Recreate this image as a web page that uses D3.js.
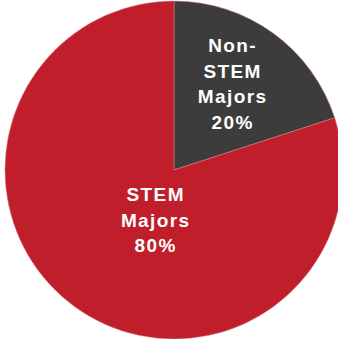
<!DOCTYPE html>
<html>
<head>
<meta charset="utf-8">
<script src="https://d3js.org/d3.v7.min.js"></script>
<style>
  html, body { margin: 0; padding: 0; background: #fff; }
  svg { display: block; }
</style>
</head>
<body>
<div id="chart"></div>
<script>
// data
var categories = ["Non-STEM Majors", "STEM Majors"];
var shares = [20, 80];
var labelLines = [["Non-", "STEM", "Majors", "20%"], ["STEM", "Majors", "80%"]];
var colors = ["#3c3c3d", "#bf1e2a"];

var width = 338, height = 339;
var cx = 174, cy = 170, radius = 169;

var svg = d3.select("#chart")
    .append("svg")
    .attr("width", width)
    .attr("height", height);

var g = svg.append("g")
    .attr("transform", "translate(" + cx + "," + cy + ")");

var pie = d3.pie().sort(null).value(function(d) { return d; });
var arcs = pie(shares);

var arc = d3.arc().innerRadius(0).outerRadius(radius);

g.selectAll("path")
    .data(arcs)
    .enter()
    .append("path")
    .attr("d", arc)
    .attr("fill", function(d, i) { return colors[i]; })
    .attr("stroke", "#d9868a")
    .attr("stroke-opacity", 0.5)
    .attr("stroke-width", 1);

// label placement: radius and angle nudge per slice (like Excel's data labels)
var labelRadius = [104, 53.5];
var labelNudge = [-0.038, -0.265];
var lineHeight = 25.5;

arcs.forEach(function(d, i) {
    var a = (d.startAngle + d.endAngle) / 2 + labelNudge[i];
    var x = Math.sin(a) * labelRadius[i];
    var y = -Math.cos(a) * labelRadius[i];
    var lines = labelLines[i];
    var t = g.append("text")
        .attr("text-anchor", "middle")
        .attr("fill", "#fff")
        .style("font-family", "'Liberation Sans', Arial, sans-serif")
        .style("font-weight", "bold")
        .style("font-size", "19px")
        .style("letter-spacing", "1.4px");
    lines.forEach(function(s, j) {
        t.append("tspan")
            .attr("x", x + 0.7)
            .attr("y", y + (j - (lines.length - 1) / 2) * lineHeight)
            .attr("dy", "0.35em")
            .text(s);
    });
});
</script>
</body>
</html>
